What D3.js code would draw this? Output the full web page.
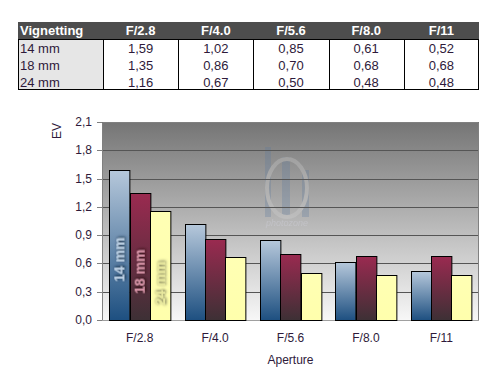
<!DOCTYPE html>
<html>
<head>
<meta charset="utf-8">
<script src="https://cdn.jsdelivr.net/npm/d3@7"></script>
<style>
  body { margin: 0; background: #fff; }
  svg { display: block; font-family: "Liberation Sans", Arial, sans-serif; }
</style>
</head>
<body>
<svg id="drawing_region"></svg>
<script>
// data
var apertures = ["F/2.8", "F/4.0", "F/5.6", "F/8.0", "F/11"];
var focals = ["14 mm", "18 mm", "24 mm"];
var ev14 = [1.59, 1.02, 0.85, 0.61, 0.52];
var ev18 = [1.35, 0.86, 0.70, 0.68, 0.68];
var ev24 = [1.16, 0.67, 0.50, 0.48, 0.48];
var yTicks = [0, 0.3, 0.6, 0.9, 1.2, 1.5, 1.8, 2.1];

var series = [ev14, ev18, ev24];
var textColor = "#2e1a3a";
var fmt = v => d3.format(".1f")(v).replace(".", ",");
var fmt2 = v => d3.format(".2f")(v).replace(".", ",");

var svg = d3.select("#drawing_region")
    .attr("width", 499)
    .attr("height", 383);

var defs = svg.append("defs");

// gradients
var plotGrad = defs.append("linearGradient").attr("id", "plotGrad")
    .attr("x1", 0).attr("y1", 0).attr("x2", 0).attr("y2", 1);
plotGrad.append("stop").attr("offset", "0%").attr("stop-color", "#757575");
plotGrad.append("stop").attr("offset", "100%").attr("stop-color", "#f7f7f7");

var barGrads = [["#b6c8db", "#1d4f80"], ["#9a2a50", "#3d3035"], ["#ffffb4", "#ffffac"]];
barGrads.forEach((c, i) => {
    var g = defs.append("linearGradient").attr("id", "barGrad" + i)
        .attr("x1", 0).attr("y1", 0).attr("x2", 0).attr("y2", 1);
    g.append("stop").attr("offset", "0%").attr("stop-color", c[0]);
    g.append("stop").attr("offset", "100%").attr("stop-color", c[1]);
});

var shadowColors = ["#0a1a30", "#200810", "#5a5a40"];
shadowColors.forEach((c, i) => {
    defs.append("filter").attr("id", "shadow" + i)
        .attr("x", "-50%").attr("y", "-50%").attr("width", "200%").attr("height", "200%")
        .append("feDropShadow")
        .attr("dx", 1).attr("dy", 1).attr("stdDeviation", 1.5)
        .attr("flood-color", c).attr("flood-opacity", 1);
});

// ---------- table ----------
var table = { left: 18, right: 479, top: 22, headH: 17, rowH: 17, firstW: 85 };
var colW = (table.right - table.left - table.firstW) / apertures.length;
var tg = svg.append("g");

tg.append("rect")
    .attr("x", table.left).attr("y", table.top)
    .attr("width", table.right - table.left).attr("height", table.headH)
    .attr("fill", "#4d4d4d");

tg.append("text")
    .attr("x", table.left + 2).attr("y", table.top + 13)
    .attr("fill", "#fff").attr("font-size", 13).attr("font-weight", "bold")
    .text("Vignetting");

apertures.forEach((a, i) => {
    tg.append("text")
        .attr("x", table.left + table.firstW + colW * (i + 0.5)).attr("y", table.top + 13)
        .attr("text-anchor", "middle")
        .attr("fill", "#fff").attr("font-size", 13).attr("font-weight", "bold")
        .text(a);
});

var bodyTop = table.top + table.headH;
var bodyH = table.rowH * focals.length;

tg.append("rect")
    .attr("x", table.left).attr("y", bodyTop)
    .attr("width", table.firstW).attr("height", bodyH)
    .attr("fill", "#e6e6e6");

tg.append("rect")
    .attr("x", table.left + 0.5).attr("y", bodyTop + 0.5)
    .attr("width", table.right - table.left - 1).attr("height", bodyH - 1)
    .attr("fill", "none").attr("stroke", "#000");

for (var c = 0; c < apertures.length; c++) {
    var lx = Math.round(table.left + table.firstW + colW * c) + 0.5;
    tg.append("line")
        .attr("x1", lx).attr("x2", lx)
        .attr("y1", bodyTop).attr("y2", bodyTop + bodyH)
        .attr("stroke", "#000");
}

focals.forEach((f, r) => {
    var by = bodyTop + table.rowH * r + 13.5;
    tg.append("text")
        .attr("x", table.left + 2).attr("y", by)
        .attr("fill", textColor).attr("font-size", 13)
        .text(f);
    series[r].forEach((v, i) => {
        tg.append("text")
            .attr("x", table.left + table.firstW + colW * (i + 0.5)).attr("y", by)
            .attr("text-anchor", "middle")
            .attr("fill", textColor).attr("font-size", 13)
            .text(fmt2(v));
    });
});

// ---------- chart ----------
var plot = { left: 102, right: 479, top: 122, bottom: 320 };

var xscale = d3.scaleBand()
    .domain(apertures)
    .range([plot.left, plot.right])
    .paddingInner(0.19)
    .paddingOuter(0.095);

var xsub = d3.scaleBand()
    .domain(focals)
    .range([0, xscale.bandwidth()]);

var yscale = d3.scaleLinear()
    .domain([0, 2.1])
    .range([plot.bottom, plot.top]);

var chart = svg.append("g");

chart.append("rect")
    .attr("x", plot.left).attr("y", plot.top)
    .attr("width", plot.right - plot.left).attr("height", plot.bottom - plot.top)
    .attr("fill", "url(#plotGrad)");

// watermark
var wm = chart.append("g").attr("opacity", 0.28);
wm.append("rect").attr("x", 265).attr("y", 147).attr("width", 6).attr("height", 70).attr("fill", "#5d7a9e");
wm.append("rect").attr("x", 282).attr("y", 157).attr("width", 8).attr("height", 60).attr("fill", "#5d7a9e");
wm.append("rect").attr("x", 302).attr("y", 170).attr("width", 7).attr("height", 47).attr("fill", "#5d7a9e");
wm.append("ellipse").attr("cx", 287).attr("cy", 188).attr("rx", 20).attr("ry", 29)
    .attr("fill", "none").attr("stroke", "#d8d8d8").attr("stroke-width", 4);
wm.append("text").attr("x", 287).attr("y", 226).attr("text-anchor", "middle")
    .attr("font-size", 9).attr("font-style", "italic").attr("fill", "#dde")
    .text("photozone");

// grid lines
chart.selectAll(".grid").data(yTicks.slice(1)).join("line")
    .attr("class", "grid")
    .attr("x1", plot.left).attr("x2", plot.right)
    .attr("y1", d => Math.round(yscale(d)) + 0.5)
    .attr("y2", d => Math.round(yscale(d)) + 0.5)
    .attr("stroke", "#555");

// plot border
chart.append("path")
    .attr("d", `M${plot.left + 0.5},${plot.bottom + 0.5}V${plot.top + 0.5}H${plot.right - 0.5}V${plot.bottom + 0.5}`)
    .attr("fill", "none").attr("stroke", "#808080");
chart.append("line")
    .attr("x1", plot.left).attr("x2", plot.right)
    .attr("y1", plot.bottom + 0.5).attr("y2", plot.bottom + 0.5)
    .attr("stroke", "#a0a0a0");

// bars
var rows = [];
apertures.forEach((a, i) => {
    focals.forEach((f, s) => rows.push({ a: a, f: f, s: s, v: series[s][i] }));
});

chart.selectAll(".bar").data(rows).join("rect")
    .attr("class", "bar")
    .attr("x", d => Math.round(xscale(d.a) + xsub(d.f)) + 0.5)
    .attr("y", d => Math.round(yscale(d.v)) + 0.5)
    .attr("width", xsub.bandwidth())
    .attr("height", d => Math.round(yscale(0)) - Math.round(yscale(d.v)))
    .attr("fill", d => `url(#barGrad${d.s})`)
    .attr("stroke", "#000");

// labels in first group
var labelFill = ["#bcd0e4", "#d895a8", "#e8e89e"];
focals.forEach((f, s) => {
    var cx = xscale(apertures[0]) + xsub(f) + xsub.bandwidth() / 2;
    var cy = yscale(0.64) + s * 12;
    chart.append("text")
        .attr("transform", `translate(${cx + 5}, ${cy}) rotate(-90)`)
        .attr("text-anchor", "middle")
        .attr("font-size", 14).attr("font-weight", "bold")
        .attr("fill", labelFill[s])
        .attr("filter", `url(#shadow${s})`)
        .text(f);
});

// y axis
var yaxis = chart.append("g");
yaxis.selectAll("line").data(yTicks).join("line")
    .attr("x1", plot.left - 5).attr("x2", plot.left)
    .attr("y1", d => Math.round(yscale(d)) + 0.5)
    .attr("y2", d => Math.round(yscale(d)) + 0.5)
    .attr("stroke", "#808080");
yaxis.selectAll("text").data(yTicks).join("text")
    .attr("x", 92).attr("y", d => yscale(d) + 4)
    .attr("text-anchor", "end")
    .attr("font-size", 12).attr("fill", textColor)
    .text(d => fmt(d));

// x axis labels
chart.selectAll(".xlab").data(apertures).join("text")
    .attr("class", "xlab")
    .attr("x", d => xscale(d) + xscale.bandwidth() / 2)
    .attr("y", 342)
    .attr("text-anchor", "middle")
    .attr("font-size", 12).attr("fill", textColor)
    .text(d => d);

chart.append("text")
    .attr("x", (plot.left + plot.right) / 2).attr("y", 364)
    .attr("text-anchor", "middle")
    .attr("font-size", 12).attr("fill", textColor)
    .text("Aperture");

chart.append("text")
    .attr("transform", "translate(61, 131) rotate(-90)")
    .attr("text-anchor", "middle")
    .attr("font-size", 12).attr("fill", textColor)
    .text("EV");
</script>
</body>
</html>
